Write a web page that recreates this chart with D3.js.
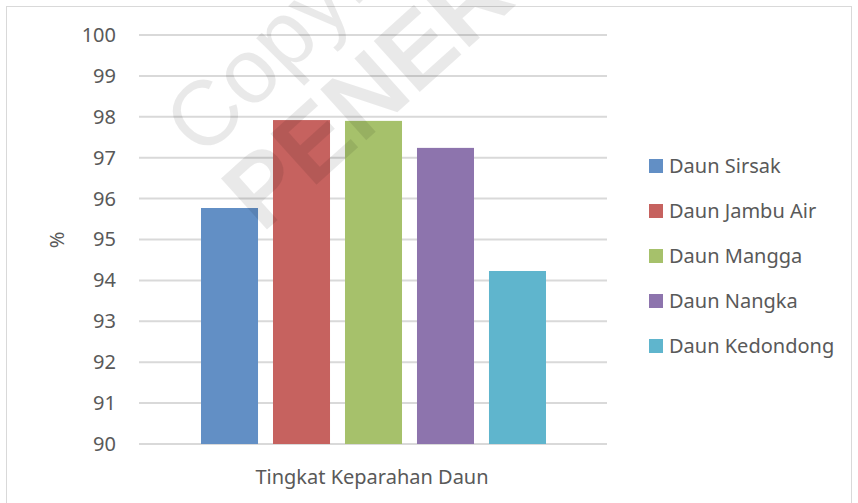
<!DOCTYPE html>
<html>
<head>
<meta charset="utf-8">
<script src="https://cdn.jsdelivr.net/npm/d3@7"></script>
<style>
  body { margin: 0; background: #fff; }
  svg { display: block; font-family: "Noto Sans", sans-serif; }
</style>
</head>
<body>
<svg id="chart" width="858" height="503"></svg>
<script>
// Data
const categories = ["Daun Sirsak", "Daun Jambu Air", "Daun Mangga", "Daun Nangka", "Daun Kedondong"];
const values = [95.77, 97.92, 97.9, 97.24, 94.23];
const colors = ["#628fc5", "#c6625f", "#a6c16b", "#8d74ad", "#5fb5cd"];
const yTicks = [90, 91, 92, 93, 94, 95, 96, 97, 98, 99, 100];
const groupLabel = "Tingkat Keparahan Daun";

const width = 858;
const height = 503;
const margin = { top: 35, right: 251, bottom: 59, left: 139 };

const svg = d3.select("#chart");

// outer chart border
svg.append("rect")
  .attr("x", 6.5).attr("y", 6.5)
  .attr("width", 845).attr("height", 510)
  .attr("fill", "#fff")
  .attr("stroke", "#d9d9d9");

const yScale = d3.scaleLinear()
  .domain([90, 100])
  .range([height - margin.bottom, margin.top]);

const xScale = d3.scaleBand()
  .domain(categories)
  .range([201, 546])
  .paddingInner(0.208)
  .paddingOuter(0);

// gridlines
svg.append("g")
  .selectAll("line")
  .data(yTicks)
  .enter()
  .append("line")
  .attr("x1", margin.left)
  .attr("x2", width - margin.right)
  .attr("y1", (d) => yScale(d))
  .attr("y2", (d) => yScale(d))
  .attr("stroke", "#d9d9d9")
  .attr("stroke-width", 2);

// y axis labels
const yAxis = d3.axisLeft(yScale).tickValues(yTicks).tickSize(0).tickPadding(0);
const yg = svg.append("g")
  .attr("transform", `translate(116, 0)`)
  .call(yAxis);
yg.select(".domain").remove();
yg.selectAll("text")
  .attr("font-family", "Noto Sans, sans-serif")
  .attr("font-size", 20)
  .attr("fill", "#595959");

// bars
svg.append("g")
  .selectAll("rect")
  .data(values)
  .enter()
  .append("rect")
  .attr("x", (d, i) => xScale(categories[i]))
  .attr("y", (d) => yScale(d))
  .attr("width", xScale.bandwidth())
  .attr("height", (d) => yScale(90) - yScale(d))
  .attr("fill", (d, i) => colors[i]);

// watermark (runs off the top edge, as in the original)
const wm = svg.append("g").attr("fill", "#000").attr("fill-opacity", 0.085);
wm.append("text")
  .attr("transform", "translate(203,160) rotate(-45)")
  .attr("font-size", 92)
  .attr("font-family", "Liberation Sans, sans-serif")
  .text("Copyright");
wm.append("text")
  .attr("transform", "translate(262,234) rotate(-42)")
  .attr("font-size", 100)
  .attr("font-weight", "bold")
  .attr("font-family", "Liberation Sans, sans-serif")
  .text("PENERBIT");

// axis titles
svg.append("text")
  .attr("x", 372)
  .attr("y", 484)
  .attr("text-anchor", "middle")
  .attr("font-size", 20)
  .attr("fill", "#595959")
  .text(groupLabel);

svg.append("text")
  .attr("transform", "translate(64,240) rotate(-90)")
  .attr("text-anchor", "middle")
  .attr("font-size", 20)
  .attr("fill", "#595959")
  .text("%");

// legend
const legend = svg.append("g")
  .selectAll("g")
  .data(categories)
  .enter()
  .append("g")
  .attr("transform", (d, i) => `translate(649, ${166 + i * 45})`);

legend.append("rect")
  .attr("x", 0).attr("y", -7)
  .attr("width", 14).attr("height", 14)
  .attr("fill", (d, i) => colors[i]);

legend.append("text")
  .attr("x", 20)
  .attr("y", 0)
  .attr("dy", "0.35em")
  .attr("font-size", 20)
  .attr("fill", "#595959")
  .text((d) => d);
</script>
</body>
</html>
